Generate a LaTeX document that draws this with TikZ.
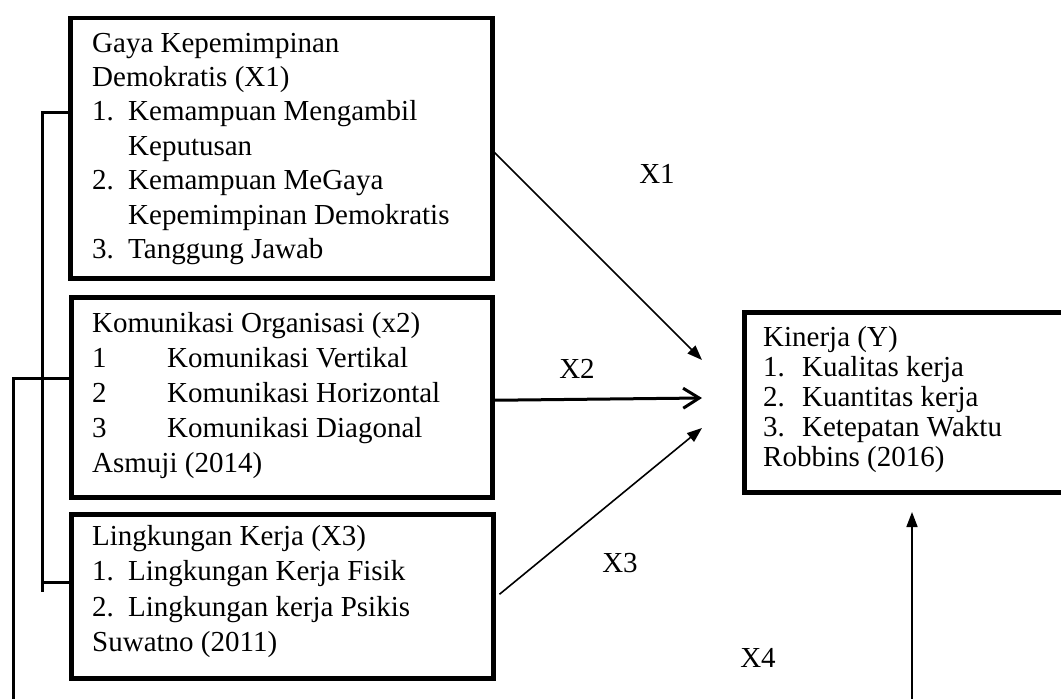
\documentclass[tikz,border=0pt]{standalone}
\usepackage{fontspec}
\setmainfont{Liberation Serif}
\usetikzlibrary{arrows.meta}
\begin{document}
\begin{tikzpicture}[x=1pt,y=-1pt,
  box/.style={draw,line width=4.5pt,inner sep=0pt,anchor=north west},
  txt/.style={anchor=base west,inner sep=0pt,font=\fontsize{29}{#1}\selectfont},
  txt/.default=34.4,
  lbl/.style={anchor=base,inner sep=0pt,font=\fontsize{29}{34}\selectfont},
  thinarrow/.style={line width=1.6pt,-{Triangle[length=15pt,width=11pt]}},
  openarrow/.style={line width=3pt,-{Straight Barb[length=16pt,width=20pt,line width=3pt]}},
  bracket/.style={line width=3pt}]
\useasboundingbox (0,0) rectangle (1061,699);
\clip (0,0) rectangle (1061,699);
% boxes
\node[box,minimum width=422pt,minimum height=260.5pt] (b1) at (68,15.5) {};
\node[box,minimum width=421pt,minimum height=200pt] (b2) at (69,295) {};
\node[box,minimum width=422pt,minimum height=164pt] (b3) at (69,512) {};
\node[box,minimum width=340pt,minimum height=180pt] (k) at (742,310) {};
% texts
\node[txt] (t1) at (92,52) {\begin{tabular}[t]{@{}l@{}}Gaya Kepemimpinan\\Demokratis (X1)\\\makebox[36pt][l]{1.}Kemampuan Mengambil\\\hspace*{36pt}Keputusan\\\makebox[36pt][l]{2.}Kemampuan MeGaya\\\hspace*{36pt}Kepemimpinan Demokratis\\\makebox[36pt][l]{3.}Tanggung Jawab\end{tabular}};
\node[txt=35] (t2) at (92,332) {\begin{tabular}[t]{@{}l@{}}Komunikasi Organisasi (x2)\\\makebox[75pt][l]{1}Komunikasi Vertikal\\\makebox[75pt][l]{2}Komunikasi Horizontal\\\makebox[75pt][l]{3}Komunikasi Diagonal\\Asmuji (2014)\end{tabular}};
\node[txt=35.5] (t3) at (92,545) {\begin{tabular}[t]{@{}l@{}}Lingkungan Kerja (X3)\\\makebox[36pt][l]{1.}Lingkungan Kerja Fisik\\\makebox[36pt][l]{2.}Lingkungan kerja Psikis\\Suwatno (2011)\end{tabular}};
\node[txt=30.2] (tk) at (763,346) {\begin{tabular}[t]{@{}l@{}}Kinerja (Y)\\\makebox[39pt][l]{1.}Kualitas kerja\\\makebox[39pt][l]{2.}Kuantitas kerja\\\makebox[39pt][l]{3.}Ketepatan Waktu\\Robbins (2016)\end{tabular}};
% labels
\node[lbl] (l1) at (657,183) {X1};
\node[lbl] (l2) at (577,378) {X2};
\node[lbl] (l3) at (620,572) {X3};
\node[lbl] (l4) at (758,667) {X4};
% arrow ends
\coordinate (e1) at (702,360);
\coordinate (e2) at (702,398);
\coordinate (e3) at (702,428);
\coordinate (s4) at (912,699);
\coordinate (e4) at (912,512);
\draw[thinarrow] ([yshift=-4.5pt]b1.east) -- (e1);
\draw[openarrow] ([yshift=-3pt]b2.east) -- (e2);
\draw[thinarrow] ([xshift=4pt,yshift=2pt]b3.east) -- (e3);
\draw[thinarrow] (s4) -- (e4);
% brackets
\coordinate (ba) at (42,112);
\coordinate (bb) at (42,592);
\coordinate (bc) at (42,582);
\coordinate (oa) at (13,378);
\coordinate (ob) at (13,699);
\draw[bracket] (ba -| b1.west) -- (ba) -- (bb);
\draw[bracket] (bc) -- (bc -| b3.west);
\draw[bracket] (oa -| b2.west) -- (oa) -- (ob);
\end{tikzpicture}
\end{document}
